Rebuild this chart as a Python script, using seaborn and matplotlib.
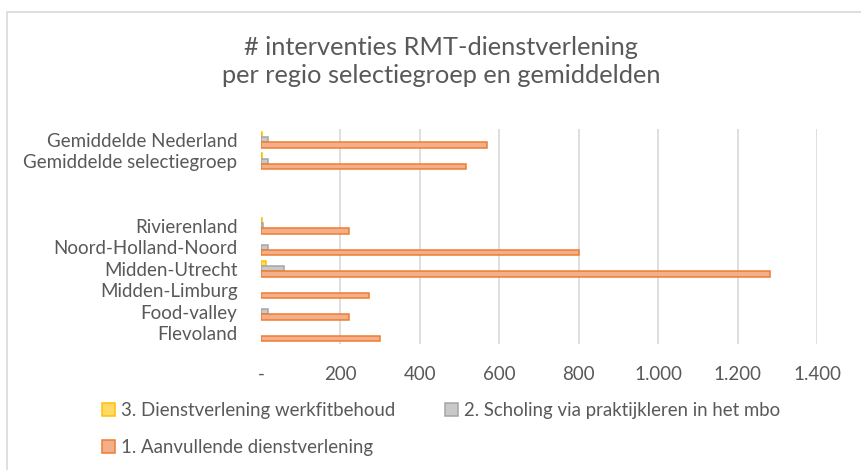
import numpy as np
import pandas as pd
import matplotlib
matplotlib.use("Agg")
import matplotlib.pyplot as plt
from matplotlib.patches import Rectangle
from matplotlib.ticker import FuncFormatter
import seaborn as sns

# ---- data ----
regions = ["Gemiddelde Nederland", "Gemiddelde selectiegroep", " ", "  ",
           "Rivierenland", "Noord-Holland-Noord", "Midden-Utrecht",
           "Midden-Limburg", "Food-valley", "Flevoland"]
series = ["3. Dienstverlening werkfitbehoud",
          "2. Scholing via praktijkleren in het mbo",
          "1. Aanvullende dienstverlening"]
werkfitbehoud = [3, 3, np.nan, np.nan, 3, 0, 13, 0, 0, 0]
scholing = [17, 17, np.nan, np.nan, 5, 17, 58, 0, 17, 0]
aanvullend = [570, 515, np.nan, np.nan, 222, 800, 1282, 272, 221, 300]
xticks = [0, 200, 400, 600, 800, 1000, 1200, 1400]

fills = ["#FFD966", "#C9C9C9", "#F4AE8A"]
edges = ["#FFC000", "#A5A5A5", "#ED7D31"]
text_col = "#595959"

rows = []
for s, vals in zip(series, [werkfitbehoud, scholing, aanvullend]):
    for r, v in zip(regions, vals):
        rows.append({"regio": r, "serie": s, "aantal": v})
df = pd.DataFrame(rows)

sns.set_theme(style="white")
plt.rcParams["font.family"] = ["Lato", "DejaVu Sans"]

W, H = 862, 470
fig = plt.figure(figsize=(W / 100, H / 100), dpi=100)
fig.patch.set_facecolor("white")

# chart frame (light border)
fig.patches.append(Rectangle((7 / W, -0.2), 1.5, 1 - 12 / H + 0.2,
                             transform=fig.transFigure, fill=False,
                             edgecolor="#D9D9D9", linewidth=1.2, zorder=0))

ax = fig.add_axes([261 / W, 1 - 344 / H, 556 / W, 215 / H])
sns.barplot(data=df, y="regio", x="aantal", hue="serie", order=regions,
            hue_order=series, palette=fills, saturation=1, width=0.75,
            orient="h", errorbar=None, ax=ax, zorder=3)

for cont, ec in zip(ax.containers, edges):
    for p in cont:
        w = p.get_width()
        if not np.isfinite(w) or w == 0:
            p.set_visible(False)
        p.set_edgecolor(ec)
        p.set_linewidth(1.1)

ax.set_xlim(0, 1400)
ax.set_ylim(len(regions) - 0.5, -0.5)
ax.set_xticks(xticks)
ax.xaxis.set_major_formatter(FuncFormatter(
    lambda v, p: "-" if v == 0 else f"{v:,.0f}".replace(",", ".")))
ax.set_xlabel("")
ax.set_ylabel("")
for s in ax.spines.values():
    s.set_visible(False)
ax.xaxis.grid(True, color="#D9D9D9", linewidth=1.2, zorder=0)
ax.set_axisbelow(True)
ax.get_xgridlines()[0].set_visible(False)
ax.tick_params(axis="x", length=0, pad=16, labelsize=13.5, labelcolor=text_col)
ax.tick_params(axis="y", length=0, pad=17, labelsize=13.5, labelcolor=text_col)

ax.get_legend().remove()
handles, labels = ax.get_legend_handles_labels()
hmap = dict(zip(labels, handles))
order = [series[0], series[2], series[1]]
leg = fig.legend([hmap[l] for l in order], order, loc="upper left",
                 bbox_to_anchor=(102 / W, 1 - 402 / H), ncol=2, frameon=False,
                 fontsize=13.4, labelcolor=text_col, handlelength=0.7,
                 handleheight=0.7, handletextpad=0.3, columnspacing=2.7,
                 labelspacing=1.05, borderpad=0, borderaxespad=0)
for h, ec in zip(leg.legend_handles, [edges[0], edges[2], edges[1]]):
    h.set_edgecolor(ec)
    h.set_linewidth(1.1)

fig.text(441 / W, 1 - 61.5 / H,
         "# interventies RMT-dienstverlening\nper regio selectiegroep en gemiddelden",
         ha="center", va="center", fontsize=18.3, color=text_col, linespacing=1.3)

fig.savefig("out.png", dpi=100, facecolor="white")
